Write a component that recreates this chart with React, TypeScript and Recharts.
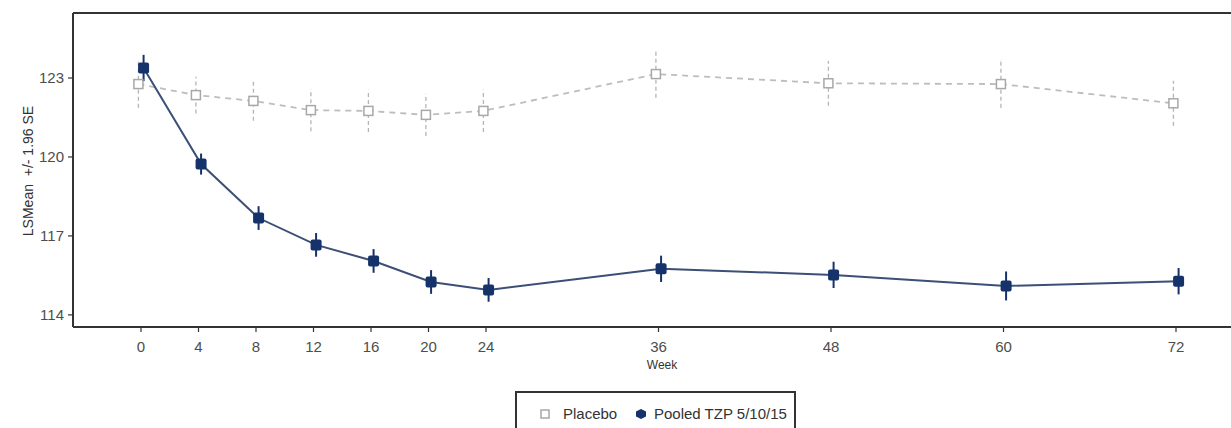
import React from 'react';
import { LineChart, Line, XAxis, YAxis, ErrorBar, ReferenceLine } from 'recharts';

const weeks = [0, 4, 8, 12, 16, 20, 24, 36, 48, 60, 72];
const placeboMean = [122.77, 122.35, 122.13, 121.78, 121.75, 121.6, 121.75, 123.15, 122.8, 122.77, 122.04];
const placeboErr = [0.9, 0.7, 0.75, 0.8, 0.8, 0.8, 0.8, 0.9, 0.85, 0.9, 0.85];
const tzpMean = [123.38, 119.73, 117.68, 116.66, 116.05, 115.25, 114.95, 115.75, 115.52, 115.1, 115.28];
const tzpErr = [0.5, 0.4, 0.45, 0.45, 0.45, 0.45, 0.45, 0.5, 0.5, 0.55, 0.5];
const yTicks = [114, 117, 120, 123];
const seriesNames = ['Placebo', 'Pooled TZP 5/10/15'];
const xLabel = 'Week';
const yLabel = 'LSMean  +/- 1.96 SE';

const X_DOMAIN: [number, number] = [-4.73, 76.8];
const Y_DOMAIN: [number, number] = [113.54, 125.47];
const DODGE = 0.18;

const NAVY = '#15336a';
const NAVY_LINE = '#3c4f76';
const GREY = '#b3b3b3';
const FONT = '"Liberation Sans", Arial, sans-serif';

const placeboData = weeks.map((w, i) => ({ x: w - DODGE, y: placeboMean[i], err: placeboErr[i] }));
const tzpData = weeks.map((w, i) => ({ x: w + DODGE, y: tzpMean[i], err: tzpErr[i] }));

const PlaceboDot = (props: any) => {
  const { cx, cy, index } = props;
  if (cx == null || cy == null) return <g key={index} />;
  return (
    <rect key={index} x={cx - 4.5} y={cy - 4.5} width={9} height={9} fill="#fff" stroke="#a8a8a8" strokeWidth={1.5} />
  );
};

const TzpDot = (props: any) => {
  const { cx, cy, index } = props;
  if (cx == null || cy == null) return <g key={index} />;
  return <rect key={index} x={cx - 5.5} y={cy - 5.5} width={11} height={11} rx={2} fill={NAVY} />;
};

export default function App() {
  return (
    <div style={{ position: 'absolute', left: 0, top: 0, width: 1231, height: 428, overflow: 'hidden', background: '#fff', fontFamily: FONT }}>
      <LineChart width={1260} height={428} margin={{ top: 13, right: 15, bottom: 61, left: 0 }}>
        <XAxis
          type="number"
          dataKey="x"
          domain={X_DOMAIN}
          ticks={weeks}
          interval={0}
          allowDataOverflow
          height={40}
          tickSize={5}
          tickMargin={9}
          tick={{ fill: '#4d4d4d', fontSize: 15, fontFamily: FONT }}
          axisLine={{ stroke: '#333', strokeWidth: 2 }}
          tickLine={{ stroke: '#333', strokeWidth: 1.2 }}
        />
        <YAxis
          type="number"
          domain={Y_DOMAIN}
          ticks={yTicks}
          allowDataOverflow
          width={73}
          tickSize={5}
          tickMargin={4}
          tick={{ fill: '#4d4d4d', fontSize: 15, fontFamily: FONT }}
          axisLine={{ stroke: '#333', strokeWidth: 2 }}
          tickLine={{ stroke: '#333', strokeWidth: 1.2 }}
        />
        <ReferenceLine y={Y_DOMAIN[1]} stroke="#333" strokeWidth={2} ifOverflow="visible" />
        <Line
          data={placeboData}
          dataKey="y"
          name={seriesNames[0]}
          stroke="#bdbdbd"
          strokeWidth={1.8}
          strokeDasharray="6 5"
          dot={PlaceboDot}
          activeDot={false}
          isAnimationActive={false}
        >
          <ErrorBar dataKey="err" direction="y" width={0} stroke="#b5b5b5" strokeWidth={1.3} strokeDasharray="4 3" />
        </Line>
        <Line
          data={tzpData}
          dataKey="y"
          name={seriesNames[1]}
          stroke={NAVY_LINE}
          strokeWidth={2}
          dot={TzpDot}
          activeDot={false}
          isAnimationActive={false}
        >
          <ErrorBar dataKey="err" direction="y" width={0} stroke={NAVY} strokeWidth={2} />
        </Line>
      </LineChart>

      <div style={{ position: 'absolute', left: 28, top: 171, transform: 'translate(-50%, -50%) rotate(-90deg)', whiteSpace: 'pre', fontSize: 14, color: '#333', lineHeight: 1 }}>
        {yLabel}
      </div>
      <div style={{ position: 'absolute', left: 662, top: 365, transform: 'translate(-50%, -50%)', fontSize: 12, color: '#333', lineHeight: 1 }}>
        {xLabel}
      </div>

      <div style={{ position: 'absolute', left: 515, top: 391, width: 281, height: 50, border: '2px solid #333', boxSizing: 'border-box' }}>
        <svg style={{ position: 'absolute', left: 22, top: 15 }} width={12} height={12}>
          <rect x={2} y={2} width={8} height={8} fill="#fff" stroke="#a8a8a8" strokeWidth={1.5} />
        </svg>
        <div style={{ position: 'absolute', left: 46, top: 12, fontSize: 15, color: '#333', lineHeight: '18px', whiteSpace: 'nowrap' }}>{seriesNames[0]}</div>
        <svg style={{ position: 'absolute', left: 117, top: 14, }} width={14} height={14}>
          <polygon points="7,2 12,4.5 12,9.5 7,12 2,9.5 2,4.5" fill={NAVY} />
        </svg>
        <div style={{ position: 'absolute', left: 137, top: 12, fontSize: 15, color: '#333', lineHeight: '18px', whiteSpace: 'nowrap' }}>{seriesNames[1]}</div>
      </div>
    </div>
  );
}
